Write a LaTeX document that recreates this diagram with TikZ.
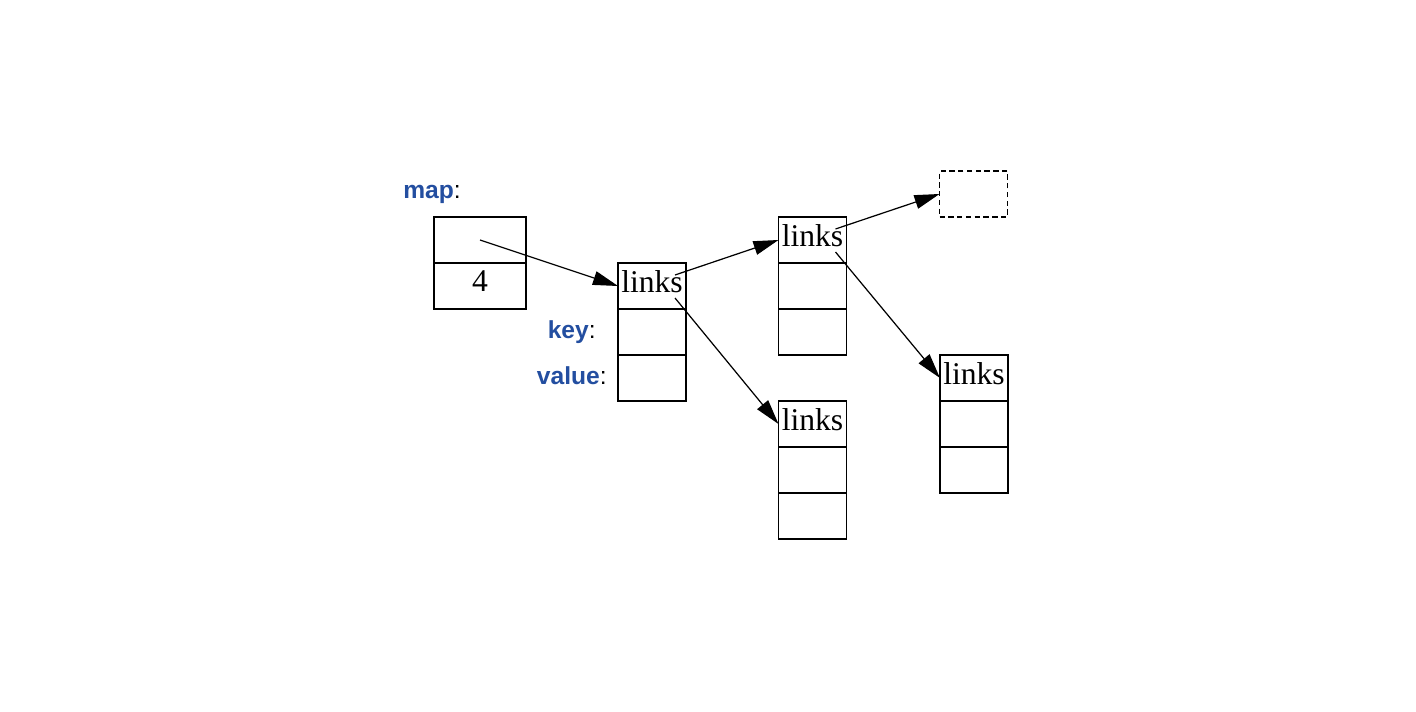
\documentclass[tikz,border=0pt]{standalone}
\usepackage{fontspec}
\setmainfont{Liberation Serif}
\newfontfamily\labelfont{Liberation Sans}
\usetikzlibrary{positioning,arrows.meta,calc}
\definecolor{keyblue}{RGB}{35,78,160}
\newcommand{\fieldname}[1]{{\labelfont{\bfseries\color{keyblue}#1}:}}
\begin{document}
\begin{tikzpicture}[
    cell/.style={draw, line width=0.65pt, minimum width=1.36cm,
      minimum height=0.92cm, inner sep=0pt, outer sep=0pt,
      text depth=0.18cm, font=\fontsize{18}{20}\selectfont},
    mapcell/.style={cell, minimum width=1.84cm},
    nilcell/.style={cell, dashed, dash pattern=on 3pt off 2pt},
    fieldlbl/.style={font=\fontsize{14}{16}\selectfont, inner sep=0pt},
    link/.style={-{Triangle[length=0.5cm,width=0.28cm]}, line width=0.7pt}]

  \useasboundingbox (0,0) rectangle (28.32,-14.24);

  \node[mapcell] (m1) at (9.6,-4.8) {};
  \node[mapcell, below=0pt of m1] (m2) {4};

  \node[cell] (n1a) at (13.04,-5.72) {links};
  \node[cell, below=0pt of n1a] (n1b) {};
  \node[cell, below=0pt of n1b] (n1c) {};

  \node[cell] (n2a) at (16.25,-4.8) {links};
  \node[cell, below=0pt of n2a] (n2b) {};
  \node[cell, below=0pt of n2b] (n2c) {};

  \node[cell] (n3a) at (16.25,-8.48) {links};
  \node[cell, below=0pt of n3a] (n3b) {};
  \node[cell, below=0pt of n3b] (n3c) {};

  \node[cell] (n4a) at (19.48,-7.56) {links};
  \node[cell, below=0pt of n4a] (n4b) {};
  \node[cell, below=0pt of n4b] (n4c) {};

  \node[nilcell] (nil) at (19.47,-3.88) {};

  \node[fieldlbl, anchor=base west] (lmap) at (8.06,-3.98) {\fieldname{map}};
  \node[fieldlbl, anchor=base east] (lkey) at (11.92,-6.78) {\fieldname{key}};
  \node[fieldlbl, anchor=base east] (lval) at (12.14,-7.7) {\fieldname{value}};

  \draw[link] (m1.center) -- (n1a.west);
  \draw[link] ([shift={(-0.22,-0.24)}]n1a.north east) -- (n2a.west);
  \draw[link] ([shift={(-0.22,0.22)}]n1a.south east) -- (n3a.west);
  \draw[link] ([shift={(-0.22,-0.24)}]n2a.north east) -- (nil.west);
  \draw[link] ([shift={(-0.22,0.22)}]n2a.south east) -- (n4a.west);
\end{tikzpicture}
\end{document}
